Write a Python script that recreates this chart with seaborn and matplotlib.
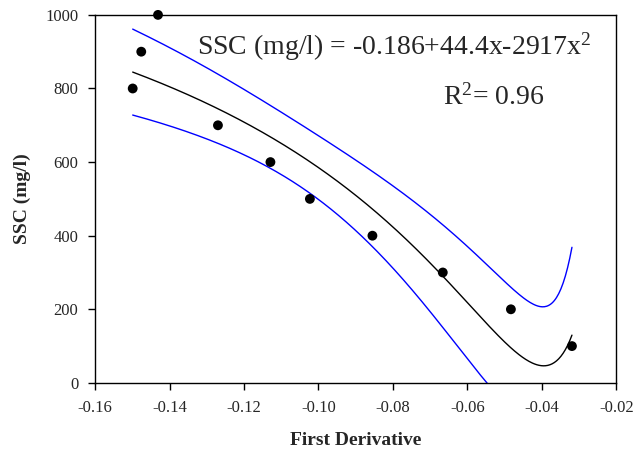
import numpy as np
import pandas as pd
import matplotlib
matplotlib.use("Agg")
import matplotlib.pyplot as plt
import seaborn as sns

# Observed samples
first_derivative = [-0.1499, -0.1476, -0.1431, -0.1270, -0.1129, -0.1023,
                    -0.0855, -0.0666, -0.0483, -0.0319]
ssc = [800, 900, 1000, 700, 600, 500, 400, 300, 200, 100]

x_ticks = [-0.16, -0.14, -0.12, -0.10, -0.08, -0.06, -0.04, -0.02]
y_ticks = [0, 200, 400, 600, 800, 1000]

equation_text = r"SSC (mg/l) = -0.186+44.4x-2917x$^2$"
r2_text = r"R$^2$= 0.96"

# Quadratic regression of SSC on 1/x, with 95% confidence band of the mean
x = np.array(first_derivative)
y = np.array(ssc, dtype=float)
X = np.vander(1.0 / x, 3)
coef, *_ = np.linalg.lstsq(X, y, rcond=None)
resid = y - X @ coef
dof = len(x) - 3
s2 = resid @ resid / dof
cov = s2 * np.linalg.inv(X.T @ X)
t_crit = 2.365  # two-sided 95%, 7 degrees of freedom

xs = np.linspace(x.min(), x.max(), 400)
Xs = np.vander(1.0 / xs, 3)
fit = Xs @ coef
half = t_crit * np.sqrt(np.einsum("ij,jk,ik->i", Xs, cov, Xs))
curve = pd.DataFrame({"x": xs, "fit": fit, "lo": fit - half, "hi": fit + half})
pts = pd.DataFrame({"x": x, "y": y})

sns.set_style("white")
plt.rcParams["font.family"] = ["Liberation Serif", "DejaVu Serif"]
plt.rcParams["mathtext.fontset"] = "custom"
plt.rcParams["mathtext.rm"] = "Liberation Serif"
plt.rcParams["mathtext.it"] = "Liberation Serif"

fig, ax = plt.subplots(figsize=(6.34, 4.51), dpi=100)
fig.subplots_adjust(left=0.15, right=0.972, top=0.967, bottom=0.151)

sns.lineplot(data=curve, x="x", y="hi", color="blue", lw=1.0, ax=ax)
sns.lineplot(data=curve, x="x", y="lo", color="blue", lw=1.0, ax=ax)
sns.lineplot(data=curve, x="x", y="fit", color="black", lw=1.0, ax=ax)
sns.scatterplot(data=pts, x="x", y="y", color="black", s=50, edgecolor="none",
                zorder=5, clip_on=False, ax=ax)

ax.set_xlim(-0.16, -0.02)
ax.set_ylim(0, 1000)
ax.set_xticks(x_ticks)
ax.set_yticks(y_ticks)
ax.set_xticklabels([f"{v:.2f}" for v in x_ticks])
ax.set_yticklabels([str(v) for v in y_ticks])
ax.tick_params(axis="both", which="both", direction="out", length=5, width=1,
               labelsize=12, bottom=True, left=True, top=False, right=False,
               color="black", pad=7)
for sp in ax.spines.values():
    sp.set_color("black")
    sp.set_linewidth(1.0)

ax.set_xlabel("First Derivative", fontsize=14, fontweight="bold", labelpad=12)
ax.set_ylabel("SSC (mg/l)", fontsize=14, fontweight="bold", labelpad=10)

ax.text(0.196, 0.891, equation_text, transform=ax.transAxes, fontsize=20,
        ha="left", va="baseline")
ax.text(0.667, 0.755, r2_text, transform=ax.transAxes, fontsize=20,
        ha="left", va="baseline")

fig.savefig("out.png", dpi=100)
